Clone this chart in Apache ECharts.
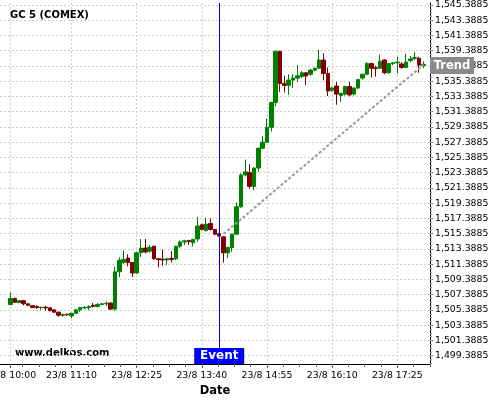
<!DOCTYPE html>
<html>
<head>
<meta charset="utf-8">
<script src="https://cdn.jsdelivr.net/npm/echarts@6/dist/echarts.min.js"></script>
<style>
  html, body { margin: 0; padding: 0; background: #fff; }
  #chart { width: 500px; height: 400px; }
</style>
</head>
<body>
<div id="chart"></div>
<script>
// 5 minute candles, 23/8
var times = ['10:00','10:05','10:10','10:15','10:20','10:25','10:30','10:35','10:40','10:45','10:50','10:55',
  '11:00','11:05','11:10','11:15','11:20','11:25','11:30','11:35','11:40','11:45','11:50','11:55',
  '12:00','12:05','12:10','12:15','12:20','12:25','12:30','12:35','12:40','12:45','12:50','12:55',
  '13:00','13:05','13:10','13:15','13:20','13:25','13:30','13:35','13:40','13:45','13:50','13:55',
  '14:00','14:05','14:10','14:15','14:20','14:25','14:30','14:35','14:40','14:45','14:50','14:55',
  '15:00','15:05','15:10','15:15','15:20','15:25','15:30','15:35','15:40','15:45','15:50','15:55',
  '16:00','16:05','16:10','16:15','16:20','16:25','16:30','16:35','16:40','16:45','16:50','16:55',
  '17:00','17:05','17:10','17:15','17:20','17:25','17:30','17:35','17:40','17:45','17:50','17:55'];

var opens = [1506.1,1506.9,1506.35,1506.6,1506.2,1505.95,1505.85,1505.68,1505.75,1505.67,1505.4,1505.1,
  1504.7,1504.82,1504.6,1504.95,1505.4,1505.65,1505.7,1506.0,1505.85,1506.1,1506.2,1506.3,
  1505.5,1510.4,1511.65,1512.2,1511.6,1510.25,1512.9,1513.5,1513.1,1513.75,1512.1,1512.05,
  1511.95,1512.15,1512.1,1513.75,1514.3,1514.5,1514.2,1514.7,1516.56,1515.8,1516.74,1515.95,
  1515.4,1514.98,1512.87,1513.58,1515.33,1518.92,1523.1,1523.4,1521.6,1524.0,1526.6,1527.4,
  1529.35,1532.6,1539.3,1535.1,1534.85,1535.55,1535.8,1536.0,1536.5,1536.3,1536.85,1537.1,
  1538.17,1536.4,1534.2,1534.75,1533.5,1533.7,1534.7,1533.7,1534.5,1535.8,1536.3,1537.7,
  1537.15,1537.1,1538.17,1536.5,1537.7,1537.8,1537.65,1537.2,1538.1,1538.35,1538.4,1537.45];

var closes = [1506.9,1506.4,1506.6,1506.2,1506.0,1505.7,1505.7,1505.75,1505.65,1505.3,1505.1,1504.7,
  1504.8,1504.75,1504.95,1505.4,1505.7,1505.72,1505.85,1505.85,1506.1,1506.2,1506.25,1505.5,
  1510.4,1511.9,1512.0,1511.6,1510.25,1512.88,1513.5,1513.0,1513.6,1512.1,1512.0,1511.95,
  1512.1,1512.0,1513.75,1514.3,1514.45,1514.35,1514.65,1516.4,1515.95,1516.65,1515.95,1515.33,
  1515.1,1512.88,1513.58,1515.33,1518.92,1523.1,1523.5,1521.6,1524.0,1526.6,1527.4,1529.35,
  1532.6,1539.3,1535.1,1534.85,1535.55,1535.8,1536.1,1536.5,1536.07,1536.85,1537.1,1538.17,
  1536.4,1534.1,1534.5,1533.7,1533.8,1534.7,1533.6,1534.5,1535.6,1536.3,1537.7,1537.1,
  1537.05,1538.0,1536.5,1537.7,1537.8,1537.9,1537.2,1537.9,1538.3,1538.5,1537.5,1537.6];

var lows = [1506.0,1506.3,1506.3,1506.0,1505.9,1505.65,1505.5,1505.4,1505.3,1505.2,1505.0,1504.5,
  1504.5,1504.6,1504.3,1504.9,1505.1,1505.5,1505.4,1505.7,1505.7,1506.0,1505.9,1505.35,
  1505.3,1509.7,1511.4,1511.1,1509.7,1510.1,1512.35,1512.8,1512.9,1512.0,1511.0,1511.2,
  1511.3,1511.6,1511.9,1513.5,1513.9,1513.9,1513.7,1514.3,1515.8,1515.7,1515.8,1515.2,
  1515.0,1511.6,1512.2,1513.0,1515.2,1518.8,1522.9,1521.3,1521.1,1523.5,1526.5,1527.3,
  1528.8,1532.1,1534.0,1533.9,1533.6,1534.5,1535.3,1535.8,1534.9,1536.1,1536.7,1537.0,
  1535.5,1533.45,1534.0,1532.3,1532.7,1533.5,1533.4,1533.5,1534.4,1535.6,1536.2,1535.9,
  1536.0,1537.0,1536.3,1536.4,1537.5,1536.4,1537.0,1537.1,1537.9,1538.2,1536.5,1537.1];

var highs = [1507.7,1507.0,1506.7,1506.7,1506.25,1506.0,1506.0,1505.8,1505.9,1505.7,1505.45,1505.15,
  1504.9,1504.9,1505.0,1505.5,1505.75,1505.9,1506.0,1506.3,1506.3,1506.3,1506.5,1506.35,
  1511.05,1512.3,1513.2,1512.7,1511.7,1513.0,1514.7,1514.7,1513.9,1513.8,1512.2,1513.3,
  1512.2,1513.1,1513.8,1514.5,1514.6,1514.6,1514.7,1517.6,1516.7,1517.5,1517.4,1516.0,
  1515.5,1515.0,1513.7,1515.4,1519.5,1523.3,1525.1,1524.5,1524.1,1526.7,1528.2,1530.5,
  1532.7,1539.4,1539.4,1536.1,1536.3,1536.3,1537.5,1536.7,1536.6,1537.0,1537.2,1539.5,
  1539.05,1537.2,1534.7,1535.3,1533.9,1534.8,1535.3,1534.6,1535.7,1536.4,1537.9,1537.8,
  1537.4,1538.9,1538.3,1537.8,1537.9,1538.6,1537.9,1539.0,1538.7,1539.2,1538.6,1538.0];

var xLabelTimes = ['10:00','11:10','12:25','13:40','14:55','16:10','17:25'];
var yTickValues = [1499.3885,1501.3885,1503.3885,1505.3885,1507.3885,1509.3885,1511.3885,1513.3885,
  1515.3885,1517.3885,1519.3885,1521.3885,1523.3885,1525.3885,1527.3885,1529.3885,1531.3885,
  1533.3885,1535.3885,1537.3885,1539.3885,1541.3885,1543.3885,1545.3885];

var eventTime = '14:00';
var trendStart = ['14:05', 1515.35];
var trendEnd = ['17:55', 1537.55];
var trendLabelValue = 1537.45;

function toMin(t) {
  var p = t.split(':');
  return (+p[0]) * 60 + (+p[1]);
}
function fmtTime(m) {
  m = Math.round(m);
  var h = Math.floor(m / 60), mm = m % 60;
  return '23/8 ' + h + ':' + (mm < 10 ? '0' : '') + mm;
}
function fmtPrice(v) {
  var parts = v.toFixed(4).split('.');
  return parts[0].replace(/\B(?=(\d{3})+(?!\d))/g, ',') + '.' + parts[1];
}

var xMin = 587.7, xMax = 1082.6;
var yMin = 1498.3, yMax = 1545.65;

var candles = times.map(function (t, i) {
  return [toMin(t), opens[i], closes[i], lows[i], highs[i]];
});
var xLabelMins = xLabelTimes.map(toMin);
var xMinorMins = [];
for (var m = 595 + 18.75; m <= xMax; m += 18.75) xMinorMins.push(m);
var yMinor = [];
for (var v = 1497.3885; v <= yMax; v += 0.5) if (v >= yMin) yMinor.push(v);

var font = 'DejaVu Sans';
var chart = echarts.init(document.getElementById('chart'));
chart.setOption({
  animation: false,
  backgroundColor: '#fff',
  title: {
    text: 'GC 5 (COMEX)',
    left: 10, top: 10, padding: 0,
    textStyle: { fontFamily: font, fontSize: 10, fontWeight: 'bold', color: '#000' }
  },
  graphic: [{
    type: 'text', left: 15, top: 348,
    style: { text: 'www.delkos.com', font: 'bold 10px "DejaVu Sans"', fill: '#000' }
  }],
  grid: { left: 0, right: 70, top: 3, bottom: 36, outerBoundsMode: 'none', containLabel: false },
  xAxis: [{
    type: 'value', min: xMin, max: xMax,
    name: 'Date', nameLocation: 'middle', nameGap: 20,
    nameTextStyle: { fontFamily: font, fontSize: 11.5, fontWeight: 'bold', color: '#000' },
    axisLine: { lineStyle: { color: '#000', width: 1 } },
    axisTick: { customValues: xLabelMins, length: 4, lineStyle: { color: '#666' } },
    axisLabel: { customValues: xLabelMins, formatter: fmtTime, margin: 7,
      fontFamily: font, fontSize: 9.33, color: '#000' },
    splitLine: { show: true, lineStyle: { color: '#cfcfcf', type: [2, 2] } }
  }, {
    type: 'value', min: xMin, max: xMax, position: 'bottom',
    axisLine: { show: false },
    axisTick: { customValues: xMinorMins, length: 3, lineStyle: { color: '#666' } },
    axisLabel: { show: false },
    splitLine: { show: false }
  }],
  yAxis: [{
    type: 'value', position: 'right', min: yMin, max: yMax, scale: true,
    axisLine: { show: true, lineStyle: { color: '#000', width: 1 } },
    axisTick: { show: true, customValues: yTickValues, length: 3, lineStyle: { color: '#666' } },
    axisLabel: { customValues: yTickValues, formatter: fmtPrice, margin: 5,
      fontFamily: font, fontSize: 9.33, color: '#000' },
    splitLine: { show: true, lineStyle: { color: '#cfcfcf', type: [2, 2] } }
  }, {
    type: 'value', position: 'right', min: yMin, max: yMax, scale: true,
    axisLine: { show: false },
    axisTick: { show: true, customValues: yMinor, length: 2, lineStyle: { color: '#999' } },
    axisLabel: { show: false },
    splitLine: { show: false }
  }],
  series: [{
    type: 'candlestick',
    data: candles,
    encode: { x: 0, y: [1, 2, 3, 4] },
    barWidth: 4,
    itemStyle: {
      color: '#008000', color0: '#800000',
      borderColor: '#008000', borderColor0: '#800000', borderWidth: 1
    }
  }, {
    type: 'line',
    name: 'Trend',
    data: [[toMin(trendStart[0]), trendStart[1]], [toMin(trendEnd[0]), trendEnd[1]]],
    symbol: 'none',
    lineStyle: { color: '#999', width: 2, type: [3, 2] },
    z: 3,
    markLine: {
      silent: true, symbol: 'none', animation: false,
      lineStyle: { color: '#0000dd', width: 1, type: 'solid' },
      label: { show: false },
      data: [{ xAxis: toMin(eventTime) }]
    },
    markPoint: {
      silent: true, animation: false,
      data: [{
        coord: [toMin(eventTime), yMin],
        symbol: 'rect', symbolSize: [50, 16], symbolOffset: [0, -8],
        itemStyle: { color: '#0000ff' },
        label: { show: true, position: 'inside', formatter: 'Event', color: '#fff',
          fontFamily: font, fontSize: 12, fontWeight: 'bold' }
      }, {
        coord: [xMax, trendLabelValue],
        symbol: 'rect', symbolSize: [44, 17], symbolOffset: [22, 0],
        itemStyle: { color: '#8a8a8a' },
        label: { show: true, position: 'inside', formatter: 'Trend', color: '#fff',
          fontFamily: font, fontSize: 11.5, fontWeight: 'bold' }
      }]
    }
  }]
});
</script>
</body>
</html>
